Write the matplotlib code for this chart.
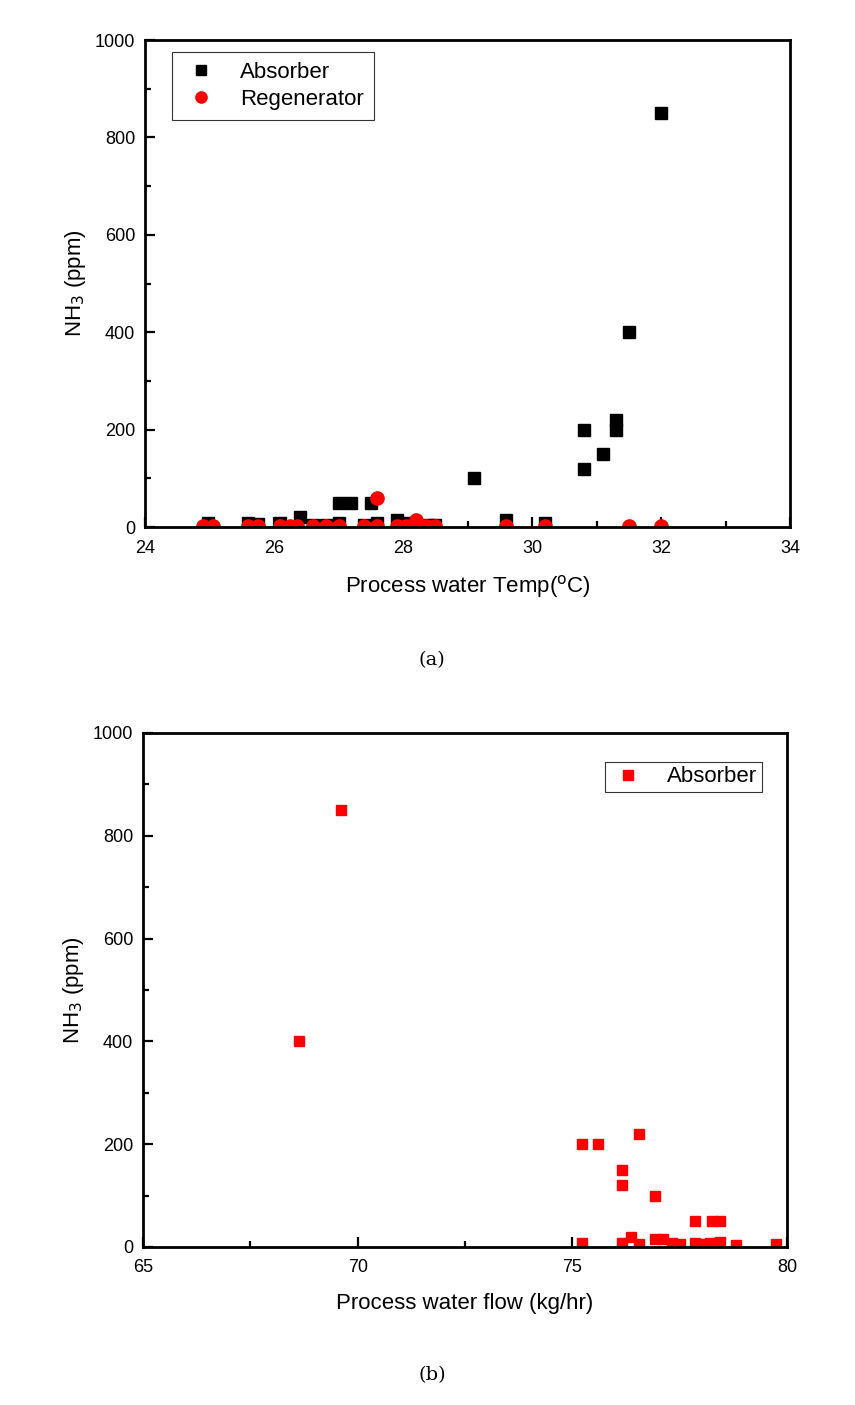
import numpy as np
import matplotlib.pyplot as plt
from matplotlib.ticker import MultipleLocator

# (a) NH3 vs process water temperature
abs_temp = [24.98, 25.6, 25.75, 26.1, 26.4, 26.6, 26.8, 27.0, 27.0, 27.2, 27.4, 27.5, 27.6,
            27.9, 28.05, 28.4, 28.5, 29.1, 29.6, 30.2, 30.8, 30.8, 31.1, 31.3, 31.3, 31.5, 32.0]
abs_nh3_a = [8, 8, 6, 8, 20, 5, 5, 8, 50, 50, 5, 50, 8,
             15, 8, 5, 5, 100, 15, 8, 200, 120, 150, 220, 200, 400, 850]

reg_temp = [24.9, 25.05, 25.6, 25.75, 26.1, 26.25, 26.35, 26.6, 26.8, 27.0, 27.4, 27.6, 27.6,
            27.9, 28.05, 28.2, 28.35, 28.5, 29.6, 30.2, 31.5, 32.0]
reg_nh3 = [3, 3, 3, 3, 3, 3, 3, 3, 3, 3, 3, 3, 60,
           3, 3, 15, 3, 3, 3, 3, 2, 2]

# (b) NH3 vs process water flow
abs_flow = [69.6, 68.63, 75.23, 75.6, 76.16, 76.16, 76.55, 76.93, 77.86, 78.25, 78.44,
            75.23, 76.16, 76.37, 76.55, 76.93, 77.11, 77.32, 77.51, 77.86, 78.04, 78.2,
            78.44, 78.81, 79.75]
abs_nh3_b = [850, 400, 200, 200, 150, 120, 220, 100, 50, 50, 50,
             8, 8, 20, 5, 15, 15, 8, 5, 8, 5, 8,
             10, 3, 5]

plt.rcParams['font.family'] = ['Liberation Sans', 'DejaVu Sans']

fig = plt.figure(figsize=(8.55, 14.05), dpi=100)
ax1 = fig.add_axes([0.1696, 0.6249, 0.7544, 0.3466])
ax2 = fig.add_axes([0.1673, 0.1125, 0.7532, 0.3658])


def style_axes(ax):
    for sp in ax.spines.values():
        sp.set_linewidth(2.0)
    ax.tick_params(which='both', direction='in', top=False, right=False, labelsize=13, width=1.6)
    ax.tick_params(which='major', length=7)
    ax.tick_params(which='minor', length=4)
    ax.tick_params(axis='x', which='major', pad=9)
    ax.tick_params(axis='y', which='major', pad=7)
    ax.set_ylim(0, 1000)
    ax.yaxis.set_major_locator(MultipleLocator(200))
    ax.yaxis.set_minor_locator(MultipleLocator(100))
    ax.set_ylabel('NH$_3$ (ppm)', fontsize=16, labelpad=5)


ax1.plot(abs_temp, abs_nh3_a, 's', color='black', ms=8, label='Absorber')
ax1.plot(reg_temp, reg_nh3, 'o', color='#ff0000', ms=9.5, label='Regenerator')
ax1.set_xlim(24, 34)
ax1.xaxis.set_major_locator(MultipleLocator(2))
ax1.xaxis.set_minor_locator(MultipleLocator(1))
style_axes(ax1)
ax1.set_xlabel('Process water Temp($^{\\rm o}$C)', fontsize=16, labelpad=12)
leg1 = ax1.legend(loc='upper left', bbox_to_anchor=(0.042, 0.975), borderaxespad=0, fontsize=16,
                  frameon=True, fancybox=False, edgecolor='black', handletextpad=0.9,
                  borderpad=0.45, labelspacing=0.25, handlelength=1.7, markerscale=0.85)
leg1.get_frame().set_linewidth(0.8)

ax2.plot(abs_flow, abs_nh3_b, 's', color='#ff0000', ms=7.5, label='Absorber')
ax2.set_xlim(65, 80)
ax2.xaxis.set_major_locator(MultipleLocator(5))
ax2.xaxis.set_minor_locator(MultipleLocator(2.5))
style_axes(ax2)
ax2.set_xlabel('Process water flow (kg/hr)', fontsize=16, labelpad=12)
leg2 = ax2.legend(loc='upper right', bbox_to_anchor=(0.961, 0.9436), borderaxespad=0, fontsize=16,
                  frameon=True, fancybox=False, edgecolor='black', handletextpad=0.9,
                  borderpad=0.2, handlelength=1.7)
leg2.get_frame().set_linewidth(0.8)

fig.text(432 / 855, 1 - 660 / 1405, '(a)', family='DejaVu Serif', fontsize=14, ha='center', va='center')
fig.text(432 / 855, 1 - 1375 / 1405, '(b)', family='DejaVu Serif', fontsize=14, ha='center', va='center')

fig.savefig('out.png', dpi=100)
